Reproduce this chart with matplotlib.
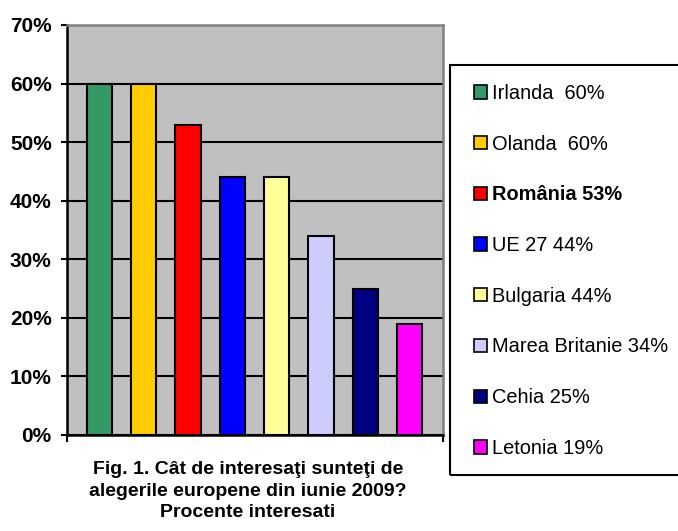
import matplotlib
matplotlib.use("Agg")
import matplotlib.pyplot as plt
from matplotlib.patches import Patch, Rectangle

plt.rcParams['font.family'] = ['Liberation Sans', 'DejaVu Sans']

countries = ["Irlanda", "Olanda", "România", "UE 27", "Bulgaria", "Marea Britanie", "Cehia", "Letonia"]
values = [60, 60, 53, 44, 44, 34, 25, 19]
legend_labels = ["Irlanda  60%", "Olanda  60%", "România 53%", "UE 27 44%", "Bulgaria 44%",
                 "Marea Britanie 34%", "Cehia 25%", "Letonia 19%"]
colors = ["#339966", "#FFCC00", "#FF0000", "#0000FF", "#FFFF99", "#CCCCFF", "#000080", "#FF00FF"]
yticks = [0, 10, 20, 30, 40, 50, 60, 70]
ytick_labels = ["0%", "10%", "20%", "30%", "40%", "50%", "60%", "70%"]
title = "Fig. 1. Cât de interesaţi sunteţi de\nalegerile europene din iunie 2009?\nProcente interesati"

W, H = 678, 531
fig = plt.figure(figsize=(W / 100, H / 100), dpi=100)
ax = fig.add_axes([67 / W, (H - 435) / H, (443 - 67) / W, (435 - 25) / H])
ax.set_facecolor("#C0C0C0")

xs = list(range(len(values)))
ax.bar(xs, values, width=0.57, color=colors, edgecolor="black", linewidth=1.5, zorder=3)

ax.set_ylim(0, 70)
x0, x1 = -0.734, 7.754
ax.set_xlim(x0, x1)
ax.set_yticks(yticks)
ax.set_yticklabels(ytick_labels, fontsize=15, fontweight="bold")
ax.set_xticks([x0, x1])
ax.set_xticklabels(["", ""])
ax.tick_params(axis="y", direction="out", length=4, width=1.5, pad=7)
ax.tick_params(axis="x", direction="out", length=5, width=1.5)
ax.yaxis.grid(True, color="black", linewidth=1.5, zorder=0)
ax.set_axisbelow(True)
for s in ["left", "bottom"]:
    ax.spines[s].set_color("black")
    ax.spines[s].set_linewidth(1.8)
for s in ["top", "right"]:
    ax.spines[s].set_color("#808080")
    ax.spines[s].set_linewidth(1.8)

# legend frame (extends past the right edge as in the reference)
fig.patches.append(Rectangle((450 / W, (H - 475) / H), 260 / W, 410 / H,
                             transform=fig.transFigure, fill=False,
                             edgecolor="black", linewidth=1.5))

handles = [Patch(facecolor=c, edgecolor="black", linewidth=1.2) for c in colors]
leg = fig.legend(handles, legend_labels, loc="upper left",
                 bbox_to_anchor=(474 / W, (H - 84) / H),
                 borderaxespad=0, borderpad=0, fontsize=14.4, handlelength=0.65,
                 handleheight=0.65, handletextpad=0.25, labelspacing=1.585,
                 frameon=False)
leg.texts[2].set_fontweight("bold")

fig.text(248 / W, (H - 461) / H, title, ha="center", va="top", fontsize=14,
         fontweight="bold", linespacing=1.35)

fig.savefig("out.png", dpi=100)
